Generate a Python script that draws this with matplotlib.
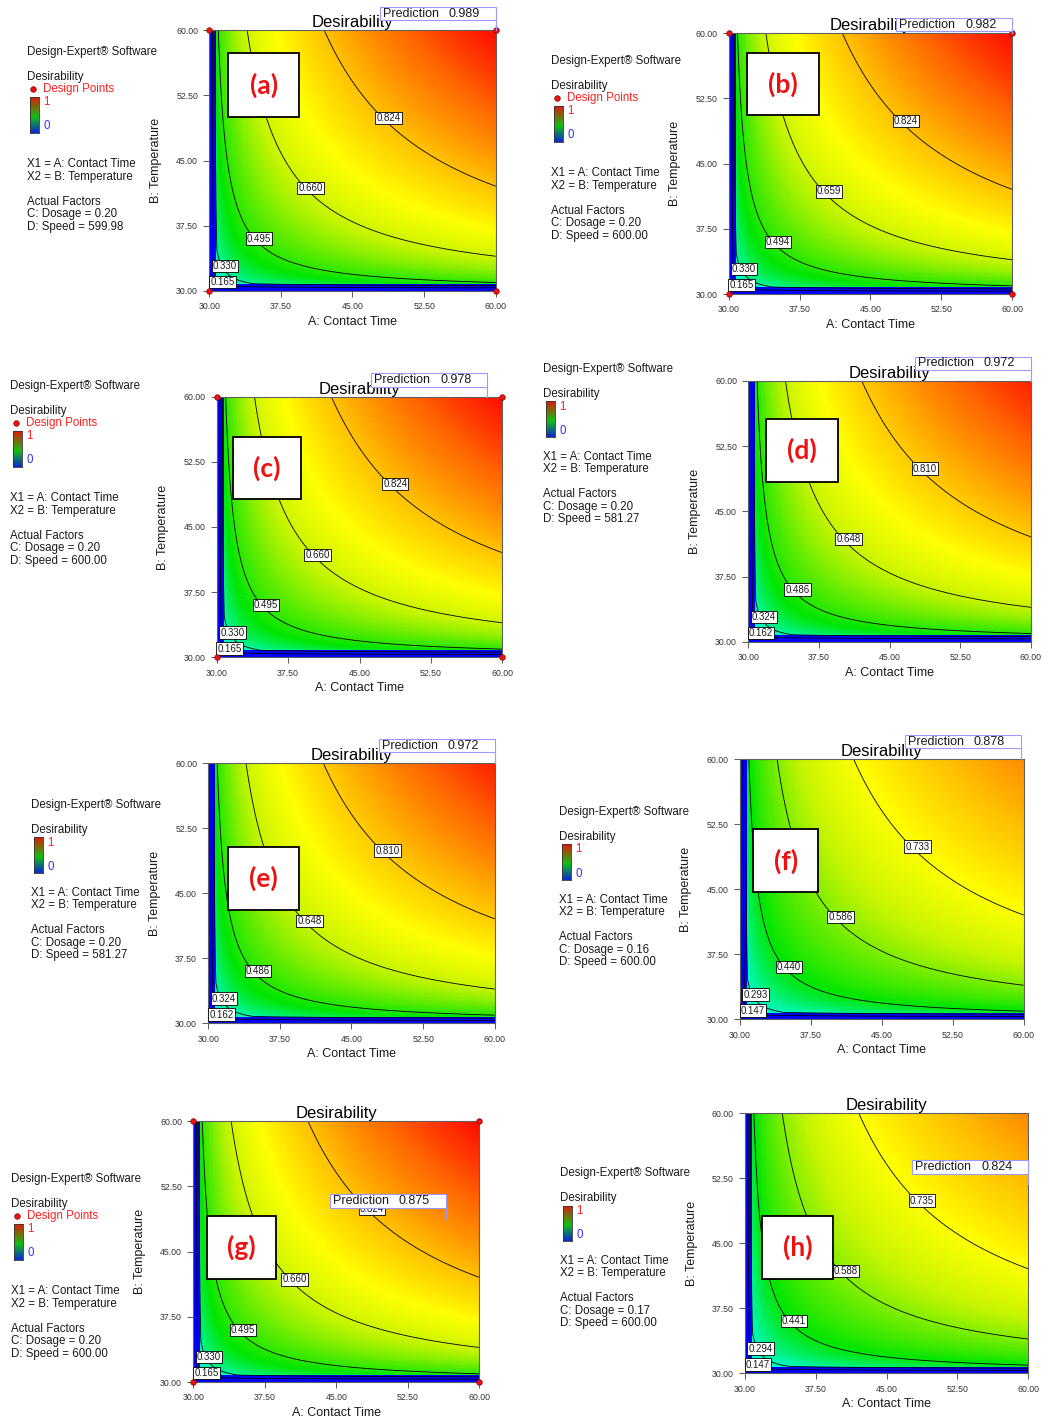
import numpy as np
import matplotlib
matplotlib.use("Agg")
import matplotlib.pyplot as plt
from matplotlib.colors import LinearSegmentedColormap
from matplotlib.patches import Rectangle
from matplotlib.lines import Line2D
from matplotlib.transforms import IdentityTransform

plt.rcParams['font.family'] = ['Liberation Sans', 'DejaVu Sans']

W, H = 1048, 1420

# ---- values ----
panel_tags = ["(a)", "(b)", "(c)", "(d)", "(e)", "(f)", "(g)", "(h)"]
dosage = [0.20, 0.20, 0.20, 0.20, 0.20, 0.16, 0.20, 0.17]
speed = [599.98, 600.00, 600.00, 581.27, 581.27, 600.00, 600.00, 600.00]
prediction = [0.989, 0.982, 0.978, 0.972, 0.972, 0.878, 0.875, 0.824]
pred_time = [60.0, 60.0, 58.4, 60.0, 60.0, 59.7, 56.5, 60.0]
pred_temp = [60.0, 60.0, 60.0, 60.0, 60.0, 60.0, 48.8, 51.9]
surface_max = [0.989, 0.989, 0.989, 0.972, 0.972, 0.880, 0.989, 0.882]
contour_levels = [
    [0.165, 0.330, 0.495, 0.660, 0.824],
    [0.165, 0.330, 0.494, 0.659, 0.824],
    [0.165, 0.330, 0.495, 0.660, 0.824],
    [0.162, 0.324, 0.486, 0.648, 0.810],
    [0.162, 0.324, 0.486, 0.648, 0.810],
    [0.147, 0.293, 0.440, 0.586, 0.733],
    [0.165, 0.330, 0.495, 0.660, 0.824],
    [0.147, 0.294, 0.441, 0.588, 0.735],
]
show_design_points = [True, True, True, False, False, False, True, False]
design_time = [30, 60, 30, 60]
design_temp = [60, 60, 30, 30]
tick_values = [30.00, 37.50, 45.00, 52.50, 60.00]

# desirability surface: D = Dmax * (a * b) ** exponent, zero in the edge band
shape_exponent = 0.2
edge_band = 0.8

# ---- layout (pixels in the 1048x1420 canvas) ----
AXES_PX = [
    (209.3, 30.3, 495.7, 290.7), (728.7, 33.3, 1012.0, 294.0),
    (216.7, 396.7, 502.3, 657.3), (748.3, 381.0, 1031.0, 641.7),
    (208.3, 763.3, 494.7, 1023.3), (740.0, 759.3, 1023.7, 1019.3),
    (193.3, 1121.3, 479.3, 1382.0), (745.0, 1113.3, 1028.3, 1373.3),
]
LEGEND_PX = [(27, 52), (551, 61), (10, 386), (543, 369),
             (31, 805), (559, 812), (11, 1179), (560, 1173)]
TAG_BOX = [  # axes fractions x0, x1, y0, y1
    (0.066, 0.314, 0.668, 0.912), (0.064, 0.317, 0.685, 0.925),
    (0.056, 0.295, 0.606, 0.846), (0.064, 0.317, 0.612, 0.853),
    (0.070, 0.318, 0.436, 0.679), (0.047, 0.276, 0.488, 0.731),
    (0.047, 0.290, 0.396, 0.637), (0.060, 0.310, 0.363, 0.605),
]
FLAG_LIFT = [10, 2, 10, 11, 11, 11, 11, 10]
LABEL_AT_T = [31.36, 31.64, 35.2, 40.62, 48.75]
LABEL_AT_B = [31.0, 32.85, 36.0, 41.8, 49.93]

TXT = '#1a1a1a'
de_cmap = LinearSegmentedColormap.from_list('de', [
    (0.0, '#0000ff'), (0.1, '#0096ff'), (0.2, '#00ffff'), (0.33, '#00f5a0'),
    (0.45, '#00e600'), (0.55, '#5aeb00'), (0.65, '#c8f500'), (0.74, '#ffff00'),
    (0.83, '#ffbe00'), (0.92, '#ff6400'), (1.0, '#ff0000')])
bar_cmap = LinearSegmentedColormap.from_list('bar', [
    (0.0, '#0a28d2'), (0.45, '#12c012'), (1.0, '#e01a0a')])

fig = plt.figure(figsize=(W / 100, H / 100), dpi=100)


def fig_rect(x0, y0, x1, y1):
    return [x0 / W, 1 - y1 / H, (x1 - x0) / W, (y1 - y0) / H]


def fig_text(x, y, s, **kw):
    kw.setdefault('color', TXT)
    kw.setdefault('fontsize', 8.3)
    fig.text(x / W, 1 - y / H, s, va='center', ha=kw.pop('ha', 'left'), **kw)


def draw_legend(i):
    x, y = LEGEND_PX[i]
    pts = show_design_points[i]
    fig_text(x, y, "Design-Expert\u00ae Software")
    fig_text(x, y + 25, "Desirability")
    if pts:
        fig.add_artist(Line2D([x + 6.3], [H - (y + 37.3)], transform=IdentityTransform(),
                              marker='o', ms=4, mfc='#ee1111', mec='#880000', mew=0.5, ls=''))
        fig_text(x + 16.3, y + 37.3, "Design Points", color='#ff2020')
        b0, b1, one, zero, x1 = 44.7, 80.7, 49.7, 74.0, 112.3
    else:
        b0, b1, one, zero, x1 = 32.5, 68.0, 37.5, 62.0, 87.7
    cax = fig.add_axes(fig_rect(x + 3, y + b0, x + 12, y + b1))
    cax.imshow(np.linspace(1, 0, 64)[:, None], cmap=bar_cmap, aspect='auto')
    cax.set_xticks([])
    cax.set_yticks([])
    for sp in cax.spines.values():
        sp.set_color('#333333')
        sp.set_linewidth(0.6)
    fig_text(x + 16.5, y + one, "1", color='#ff2020')
    fig_text(x + 16.5, y + zero, "0", color='#3030ff')
    fig_text(x, y + x1, "X1 = A: Contact Time")
    fig_text(x, y + x1 + 12.4, "X2 = B: Temperature")
    fig_text(x, y + x1 + 37.7, "Actual Factors")
    fig_text(x, y + x1 + 50, f"C: Dosage = {dosage[i]:.2f}")
    fig_text(x, y + x1 + 62.4, f"D: Speed = {speed[i]:.2f}")


# model grids
gc = np.linspace(30, 60, 301)
cc = 30 + (np.arange(200) + 0.5) * 30 / 200
GX, GY = np.meshgrid(gc, gc)
CX, CY = np.meshgrid(cc, cc)


def surface(X, Y, dmax, ramp):
    base = dmax * (((X - 30) / 30) * ((Y - 30) / 30)) ** shape_exponent
    if ramp:
        return base * np.clip((X - 30) / edge_band, 0, 1) * np.clip((Y - 30) / edge_band, 0, 1)
    inside = (X >= 30 + edge_band) & (Y >= 30 + edge_band)
    return np.where(inside, base, 0.0)


for i in range(8):
    x0, y0, x1, y1 = AXES_PX[i]
    ax = fig.add_axes(fig_rect(x0, y0, x1, y1))
    axw, axh = x1 - x0, y1 - y0

    colour = surface(CX, CY, surface_max[i], ramp=False)
    ax.imshow(colour, extent=[30, 60, 30, 60], origin='lower', cmap=de_cmap,
              vmin=0, vmax=1, interpolation='nearest', aspect='auto')
    field = surface(GX, GY, surface_max[i], ramp=True)
    ax.contour(GX, GY, field, levels=contour_levels[i], colors='black', linewidths=0.6)
    for lev, tx, ty in zip(contour_levels[i], LABEL_AT_T, LABEL_AT_B):
        ax.text(tx, ty, f"{lev:.3f}", ha='center', va='center', fontsize=7, color=TXT,
                zorder=4, bbox=dict(boxstyle='square,pad=0.12', fc='white', ec='black', lw=0.6))

    ax.set_xlim(30, 60)
    ax.set_ylim(30, 60)
    ax.set_xticks(tick_values)
    ax.set_yticks(tick_values)
    ax.set_xticklabels([f"{t:.2f}" for t in tick_values])
    ax.set_yticklabels([f"{t:.2f}" for t in tick_values])
    ax.tick_params(direction='out', length=4.3, width=0.6, color='#404040',
                   labelsize=6.3, labelcolor='#333333', pad=3.8)
    for sp in ax.spines.values():
        sp.set_color('#606060')
        sp.set_linewidth(0.8)
    ax.set_xlabel("A: Contact Time", fontsize=9, color=TXT, va='center')
    ax.xaxis.set_label_coords(0.5, -31 / axh)
    ax.set_ylabel("B: Temperature", fontsize=9, color=TXT, va='center')
    ax.yaxis.set_label_coords(-53.5 / axw, 0.5)
    ax.set_title("Desirability", fontsize=12, color='black', pad=2)

    if show_design_points[i]:
        ax.scatter(design_time, design_temp, s=16, c='#ee1111', edgecolors='#880000',
                   linewidths=0.5, clip_on=False, zorder=6)

    bx0, bx1, by0, by1 = TAG_BOX[i]
    ax.add_patch(Rectangle((bx0, by0), bx1 - bx0, by1 - by0, transform=ax.transAxes,
                           fc='white', ec='black', lw=1.3, zorder=5))
    ax.text((bx0 + bx1) / 2, (by0 + by1) / 2, panel_tags[i], transform=ax.transAxes,
            ha='center', va='center', fontsize=19, fontweight='bold', color='#ee1111',
            family=['Lato', 'DejaVu Sans'], zorder=6)

    # prediction flag
    dx, dy = ax.transData.transform((pred_time[i], pred_temp[i]))
    lift = FLAG_LIFT[i]
    fig.add_artist(Rectangle((dx - 116, dy + lift), 116, 13.4, transform=IdentityTransform(),
                             fc='white', ec='#9a9aff', lw=0.8, zorder=10))
    fig.add_artist(Line2D([dx, dx], [dy, dy + lift], transform=IdentityTransform(),
                          color='#9a9aff', lw=0.8, zorder=10))
    fig.text(dx - 113, dy + lift + 6.7, "Prediction", transform=IdentityTransform(),
             fontsize=9, color=TXT, va='center', ha='left', zorder=11)
    fig.text(dx - 47, dy + lift + 6.7, f"{prediction[i]:.3f}", transform=IdentityTransform(),
             fontsize=9, color=TXT, va='center', ha='left', zorder=11)

    draw_legend(i)

fig.savefig("out.png", dpi=100)
